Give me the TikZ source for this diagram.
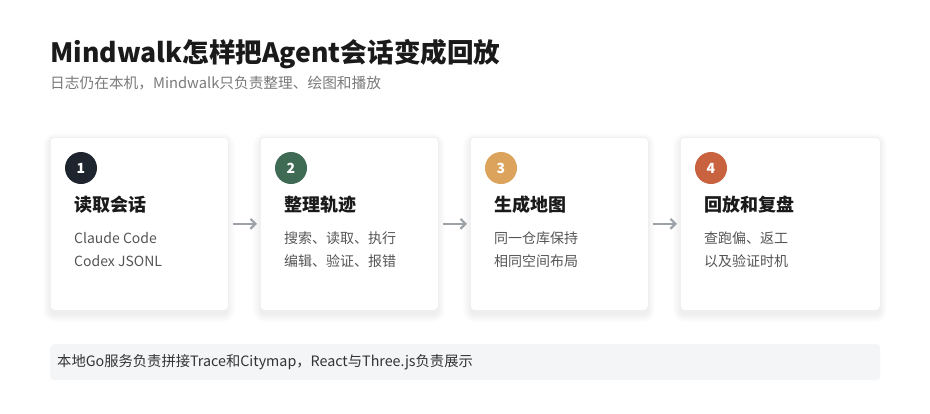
\documentclass[tikz,border=0pt]{standalone}
\usepackage{fontspec}
\setmainfont{Noto Sans CJK SC}
\usetikzlibrary{arrows.meta,calc}
\definecolor{titlec}{HTML}{1A1A1A}
\definecolor{subc}{HTML}{7A7A7A}
\definecolor{bodyc}{HTML}{555555}
\definecolor{cardborder}{HTML}{ECEDEF}
\definecolor{arrowc}{HTML}{9DA2A8}
\definecolor{barfill}{HTML}{F3F5F7}
\definecolor{bartext}{HTML}{333333}
\definecolor{numA}{HTML}{1E252E}
\definecolor{numB}{HTML}{3F6B54}
\definecolor{numC}{HTML}{DBA35C}
\definecolor{numD}{HTML}{C9633F}
\newcommand{\softshadow}[2]{% #1 = north west, #2 = south east
  \foreach \s in {1,2,...,8}{
    \fill[black, opacity=0.009, rounded corners=4pt+\s pt]
      ($(#1)+(-\s+1,-\s+4)$) rectangle ($(#2)+(\s-1,\s+4)$);
  }}
\begin{document}
\begin{tikzpicture}[x=1pt,y=-1pt,
  card/.style={draw=cardborder, line width=0.6pt, fill=white, rounded corners=4pt,
    anchor=north west, minimum height=173pt, inner sep=0pt},
  numdot/.style={circle, minimum size=32pt, inner sep=0pt, text=white,
    font=\fontsize{14}{16}\selectfont\bfseries},
  cardtitle/.style={anchor=base west, inner sep=0pt, text=titlec,
    font=\fontsize{18}{22}\selectfont\bfseries},
  cardbody/.style={anchor=base west, inner sep=0pt, text=bodyc,
    font=\fontsize{14}{17}\selectfont},
  arr/.style={draw=arrowc, line width=2.2pt, -{Straight Barb[length=5pt,width=10pt]},
    shorten <=4pt, shorten >=3pt}
]
\useasboundingbox[fill=white] (0,0) rectangle (930,413);

\node[anchor=base west, inner sep=0pt, text=titlec, font=\fontsize{26.6}{32}\selectfont\bfseries]
  (title) at (50,62) {Mindwalk怎样把Agent会话变成回放};
\node[anchor=base west, inner sep=0pt, text=subc, font=\fontsize{14.7}{18}\selectfont]
  (sub) at (50,88) {日志仍在本机，Mindwalk只负责整理、绘图和播放};

\softshadow{50,137}{228,310}
\softshadow{260,137}{438,310}
\softshadow{470,137}{648,310}
\softshadow{680,137}{880,310}

\node[card, minimum width=178pt] (c1) at (50,137) {};
\node[card, minimum width=178pt] (c2) at (260,137) {};
\node[card, minimum width=178pt] (c3) at (470,137) {};
\node[card, minimum width=200pt] (c4) at (680,137) {};

\node[numdot, fill=numA] (n1) at ($(c1.north west)+(31,31)$) {1};
\node[numdot, fill=numB] (n2) at ($(c2.north west)+(31,31)$) {2};
\node[numdot, fill=numC] (n3) at ($(c3.north west)+(31,31)$) {3};
\node[numdot, fill=numD] (n4) at ($(c4.north west)+(31,31)$) {4};

\node[cardtitle] (t1) at ($(c1.north west)+(24,74.5)$) {读取会话};
\node[cardtitle] (t2) at ($(c2.north west)+(24,74.5)$) {整理轨迹};
\node[cardtitle] (t3) at ($(c3.north west)+(24,74.5)$) {生成地图};
\node[cardtitle] (t4) at ($(c4.north west)+(24,74.5)$) {回放和复盘};

\node[cardbody] (b1a) at ($(c1.north west)+(24,106.5)$) {Claude Code};
\node[cardbody] (b1b) at ($(c1.north west)+(24,129)$) {Codex JSONL};
\node[cardbody] (b2a) at ($(c2.north west)+(24,106.5)$) {搜索、读取、执行};
\node[cardbody] (b2b) at ($(c2.north west)+(24,129)$) {编辑、验证、报错};
\node[cardbody] (b3a) at ($(c3.north west)+(24,106.5)$) {同一仓库保持};
\node[cardbody] (b3b) at ($(c3.north west)+(24,129)$) {相同空间布局};
\node[cardbody] (b4a) at ($(c4.north west)+(24,106.5)$) {查跑偏、返工};
\node[cardbody] (b4b) at ($(c4.north west)+(24,129)$) {以及验证时机};

\draw[arr] (c1.east) -- (c2.west);
\draw[arr] (c2.east) -- (c3.west);
\draw[arr] (c3.east) -- (c4.west);

\node[fill=barfill, rounded corners=4pt, anchor=north west, minimum width=830pt,
  minimum height=36pt, inner sep=0pt] (bar) at (50,344) {};
\node[anchor=west, inner sep=0pt, text=bartext, font=\fontsize{14.3}{17}\selectfont]
  (bart) at ($(bar.west)+(7,0)$) {本地Go服务负责拼接Trace和Citymap，React与Three.js负责展示};
\end{tikzpicture}
\end{document}
